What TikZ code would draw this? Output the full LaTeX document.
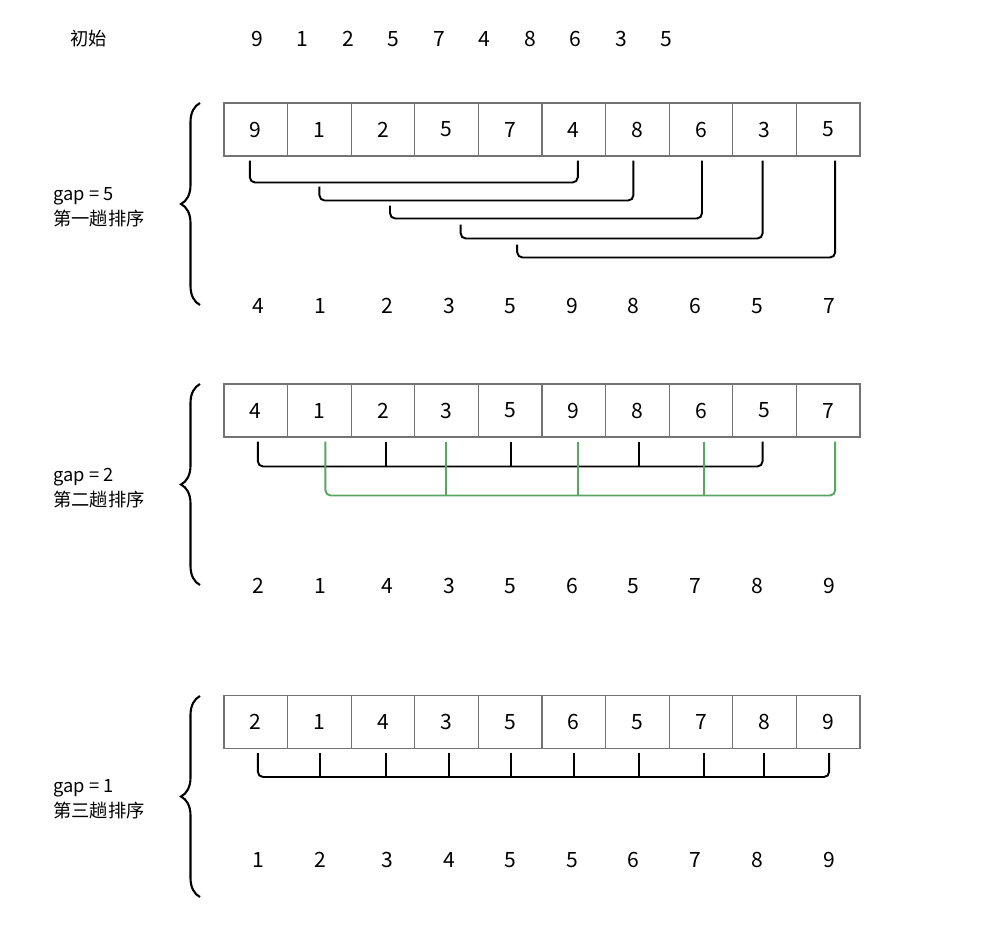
\documentclass[tikz,border=0pt]{standalone}
\usepackage{fontspec}
\setmainfont{Noto Sans CJK SC}
\usetikzlibrary{positioning, decorations.pathreplacing}
\definecolor{gapgreen}{RGB}{88,166,98}
\definecolor{cellgray}{RGB}{115,115,115}

\begin{document}
\begin{tikzpicture}[
    x=0.02cm, y=-0.02cm,
    cell/.style={draw=cellgray, line width=0.6pt, minimum width=1.272cm,
                 minimum height=1.06cm, inner sep=0pt, font=\fontsize{12}{14}\selectfont},
    num/.style={inner sep=0pt, font=\fontsize{12}{14}\selectfont},
    lbl/.style={align=left, anchor=west, inner sep=0pt, font=\fontsize{10.4}{14}\selectfont},
    link/.style={line width=1.1pt, rounded corners=3pt},
    tick/.style={line width=1.1pt},
    brc/.style={decorate, decoration={brace, amplitude=0.38cm}, line width=1.2pt}
  ]
  \useasboundingbox (0,0) rectangle (994,930);

  % Start
  \node[lbl] (init) at (70,39) {初始};
  \foreach \v [count=\i from 0] in {9,1,2,5,7,4,8,6,3,5}
    \node[num] (s\i) at ({257+45.5*\i},39) {\v};

  % Pass 1 -- gap 5
  \foreach \v [count=\i from 0] in {9,1,2,5,7,4,8,6,3,5}
    \node[cell] (a\i) at ({255.8+63.6*\i},129.5) {\v};
  \foreach \l/\dl/\s/\r/\dr/\h in {0/-6/4/5/4/22, 1/0/30/6/-4/14, 2/7/49/7/1/13,
                                   3/14/68/8/-2/14, 4/7/88/9/7/13}
    \draw[link] ([shift={(\dl,\s)}]a\l.south) -- ++(0,\h) -| ([shift={(\dr,4)}]a\r.south);
  \draw[brc] (200,305) -- (200,103);
  \node[lbl] (gapA) at (53,207) {gap = 5\\第一趟排序};
  \foreach \v/\x [count=\i from 0] in {4/258,1/320,2/387,3/449,5/510,9/572,8/633,6/695,5/757,7/829}
    \node[num] (ra\i) at (\x,306) {\v};

  % Pass 2 -- gap 2
  \foreach \v [count=\i from 0] in {4,1,2,3,5,9,8,6,5,7}
    \node[cell] (b\i) at ({255.8+63.6*\i},410.5) {\v};
  \draw[link] ([shift={(2,4)}]b0.south) -- ++(0,25) -| ([shift={(-2,4)}]b8.south);
  \foreach \k/\d in {2/3, 4/1, 6/2}
    \draw[tick] ([shift={(\d,4)}]b\k.south) -- ++(0,25);
  \draw[link, gapgreen] ([shift={(6,4)}]b1.south) -- ++(0,54) -| ([shift={(7,4)}]b9.south);
  \foreach \k/\d in {3/-1, 5/4, 7/3}
    \draw[tick, gapgreen] ([shift={(\d,4)}]b\k.south) -- ++(0,54);
  \draw[brc] (200,585) -- (200,384);
  \node[lbl] (gapB) at (53,488) {gap = 2\\第二趟排序};
  \foreach \v/\x [count=\i from 0] in {2/258,1/320,4/387,3/449,5/510,6/572,5/633,7/695,8/757,9/829}
    \node[num] (rb\i) at (\x,586) {\v};

  % Pass 3 -- gap 1
  \foreach \v [count=\i from 0] in {2,1,4,3,5,6,5,7,8,9}
    \node[cell] (c\i) at ({255.8+63.6*\i},722) {\v};
  \draw[link] ([shift={(2,4)}]c0.south) -- ++(0,24) -| ([shift={(1,4)}]c9.south);
  \foreach \k/\d in {1/1, 2/3, 3/2, 4/1, 5/0, 6/2, 7/3, 8/-1}
    \draw[tick] ([shift={(\d,4)}]c\k.south) -- ++(0,24);
  \draw[brc] (200,897) -- (200,696);
  \node[lbl] (gapC) at (53,799) {gap = 1\\第三趟排序};
  \foreach \v/\x [count=\i from 0] in {1/258,2/320,3/387,4/449,5/510,5/572,6/633,7/695,8/757,9/829}
    \node[num] (rc\i) at (\x,860) {\v};
\end{tikzpicture}
\end{document}
